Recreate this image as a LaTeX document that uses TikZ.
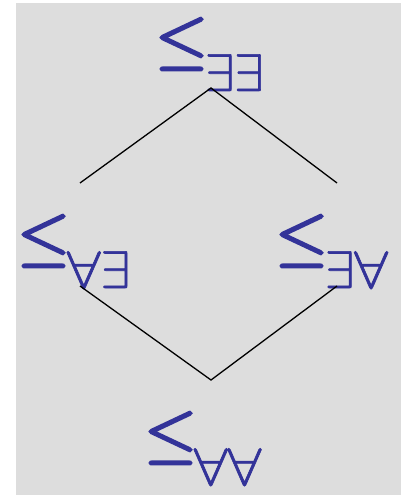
\documentclass[tikz,border=0pt]{standalone}
\usepackage{graphicx}
\definecolor{lblue}{RGB}{51,51,153}
\definecolor{bggray}{RGB}{221,221,221}
\newcommand{\thick}[2]{\special{pdf:literal direct 2 Tr #1 w}#2\special{pdf:literal direct 0 Tr}}
\newcommand{\FA}{\scalebox{1.15}[1]{$\forall$}}
\newcommand{\EX}{$\exists$}
\newcommand{\rel}[1]{\scalebox{6.8}{\thick{0.34}{$\leq$}}\kern-3bp\raisebox{-30bp}{\scalebox{5.3}{\thick{0.12}{#1}}}}
\tikzset{lbl/.style={inner sep=0pt,anchor=base west,text=lblue},
  conn/.style={draw=black,line width=1.3bp}}
\begin{document}
\begin{tikzpicture}[x=1bp,y=-1bp]
\useasboundingbox (0,0) rectangle (405,495);
\fill[bggray] (16,3) rectangle (401,495);
\node[lbl] (ee) at (155,61) {\rel{\EX\EX}};
\node[lbl] (ae) at (17,258) {\rel{\FA\EX}};
\node[lbl] (ea) at (275,258) {\rel{\EX\FA}};
\node[lbl] (aa) at (144,455) {\rel{\FA\FA}};
\coordinate (t) at (211,88);
\coordinate (l1) at (80,183);
\coordinate (r1) at (337,183);
\coordinate (l2) at (80,286);
\coordinate (r2) at (337,286);
\coordinate (b) at (211,380);
\draw[conn] (l1) -- (t) -- (r1);
\draw[conn] (l2) -- (b) -- (r2);
\end{tikzpicture}
\end{document}
